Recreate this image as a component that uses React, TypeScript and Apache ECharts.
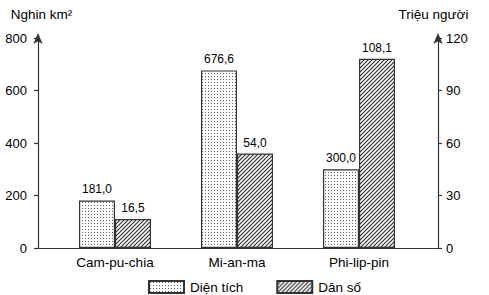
import React, { useEffect, useRef } from "react";
import * as echarts from "echarts";

const categories = ["Cam-pu-chia", "Mi-an-ma", "Phi-lip-pin"];
const areaValues = [181.0, 676.6, 300.0];
const popValues = [16.5, 54.0, 108.1];
const seriesNames = ["Diện tích", "Dân số"];
const leftAxisName = "Nghin km²";
const rightAxisName = "Triệu người";
const leftAxis = { min: 0, max: 800, interval: 200 };
const rightAxis = { min: 0, max: 120, interval: 30 };

const FONT = "'Liberation Sans', Arial, sans-serif";

function makeDots() {
  const s = 3;
  const c = document.createElement("canvas");
  c.width = s;
  c.height = s;
  const ctx = c.getContext("2d")!;
  ctx.fillStyle = "#ffffff";
  ctx.fillRect(0, 0, s, s);
  ctx.fillStyle = "#5e5e5e";
  ctx.fillRect(1, 1, 1, 1);
  return { image: c.toDataURL(), repeat: "repeat", imageWidth: s, imageHeight: s };
}

function makeHatch() {
  const s = 4;
  const c = document.createElement("canvas");
  c.width = s;
  c.height = s;
  const ctx = c.getContext("2d")!;
  ctx.fillStyle = "#ffffff";
  ctx.fillRect(0, 0, s, s);
  ctx.strokeStyle = "#2a2a2a";
  ctx.lineWidth = 1.1;
  ctx.beginPath();
  ctx.moveTo(0, s);
  ctx.lineTo(s, 0);
  ctx.moveTo(-1, 1);
  ctx.lineTo(1, -1);
  ctx.moveTo(s - 1, s + 1);
  ctx.lineTo(s + 1, s - 1);
  ctx.stroke();
  return { image: c.toDataURL(), repeat: "repeat", imageWidth: s, imageHeight: s };
}

const fmt = (v: number) => v.toFixed(1).replace(".", ",");

export default function App() {
  const ref = useRef<HTMLDivElement>(null);
  useEffect(() => {
    document.body.style.margin = "0";
    const chart = echarts.init(ref.current!, null, { renderer: "svg" });
    const axisLineStyle = { color: "#333", width: 1.2 };
    const gridTop = 38;
    const gridBottom = 47;
    const labelStyle = {
      show: true,
      position: "top",
      distance: 5,
      fontFamily: FONT,
      fontSize: 12,
      color: "#000",
      formatter: (p: any) => fmt(p.value),
    };
    chart.setOption({
      animation: false,
      backgroundColor: "#ffffff",
      textStyle: { fontFamily: FONT },
      grid: [
        { left: 38, right: 51, top: gridTop, bottom: gridBottom, containLabel: false },
        { left: 54, right: 69, top: gridTop, bottom: gridBottom, containLabel: false },
      ],
      legend: {
        left: 143,
        top: 275,
        itemWidth: 35,
        itemHeight: 12,
        itemGap: 33,
        icon: "rect",
        textStyle: { fontFamily: FONT, fontSize: 13.5, color: "#000", padding: [0, 0, 0, 1] },
        data: seriesNames,
      },
      xAxis: [
        {
          type: "value",
          gridIndex: 0,
          min: 0,
          max: 1,
          axisLine: { show: true, onZero: false, lineStyle: axisLineStyle },
          axisTick: { show: false },
          axisLabel: { show: false },
          splitLine: { show: false },
        },
        {
          type: "category",
          gridIndex: 1,
          data: categories,
          axisLine: { show: false },
          axisTick: { show: false },
          axisLabel: { fontFamily: FONT, fontSize: 13.5, color: "#000", margin: 7 },
        },
      ],
      yAxis: [
        {
          type: "value",
          gridIndex: 0,
          position: "left",
          ...leftAxis,
          name: leftAxisName,
          nameLocation: "end",
          nameGap: 17,
          nameTextStyle: { fontFamily: FONT, fontSize: 13.5, color: "#000", padding: [0, 0, 0, 7] },
          axisLine: {
            show: true,
            lineStyle: axisLineStyle,
            symbol: ["none", "arrow"],
            symbolSize: [7, 11],
            symbolOffset: [0, 5],
          },
          axisTick: { show: true, length: 4, lineStyle: axisLineStyle },
          axisLabel: { fontFamily: FONT, fontSize: 13, color: "#000", margin: 11 },
          splitLine: { show: false },
        },
        {
          type: "value",
          gridIndex: 0,
          position: "right",
          ...rightAxis,
          name: rightAxisName,
          nameLocation: "end",
          nameGap: 17,
          nameTextStyle: { fontFamily: FONT, fontSize: 13.5, color: "#000", padding: [0, 9, 0, 0] },
          axisLine: {
            show: true,
            lineStyle: axisLineStyle,
            symbol: ["none", "arrow"],
            symbolSize: [7, 11],
            symbolOffset: [0, 5],
          },
          axisTick: { show: true, length: 4, lineStyle: axisLineStyle },
          axisLabel: { fontFamily: FONT, fontSize: 13, color: "#000", margin: 8 },
          splitLine: { show: false },
        },
        { type: "value", gridIndex: 1, ...leftAxis, show: false, splitLine: { show: false } },
        { type: "value", gridIndex: 1, ...rightAxis, show: false, splitLine: { show: false } },
      ],
      series: [
        {
          name: seriesNames[0],
          type: "bar",
          xAxisIndex: 1,
          yAxisIndex: 2,
          data: areaValues,
          barWidth: 36,
          barGap: "0%",
          itemStyle: { color: makeDots(), borderColor: "#333", borderWidth: 1.2 },
          label: labelStyle,
        },
        {
          name: seriesNames[1],
          type: "bar",
          xAxisIndex: 1,
          yAxisIndex: 3,
          data: popValues,
          barWidth: 36,
          barGap: "0%",
          itemStyle: { color: makeHatch(), borderColor: "#333", borderWidth: 1.2 },
          label: labelStyle,
        },
      ],
    });
    return () => chart.dispose();
  }, []);
  return <div ref={ref} style={{ width: 489, height: 295 }} />;
}
